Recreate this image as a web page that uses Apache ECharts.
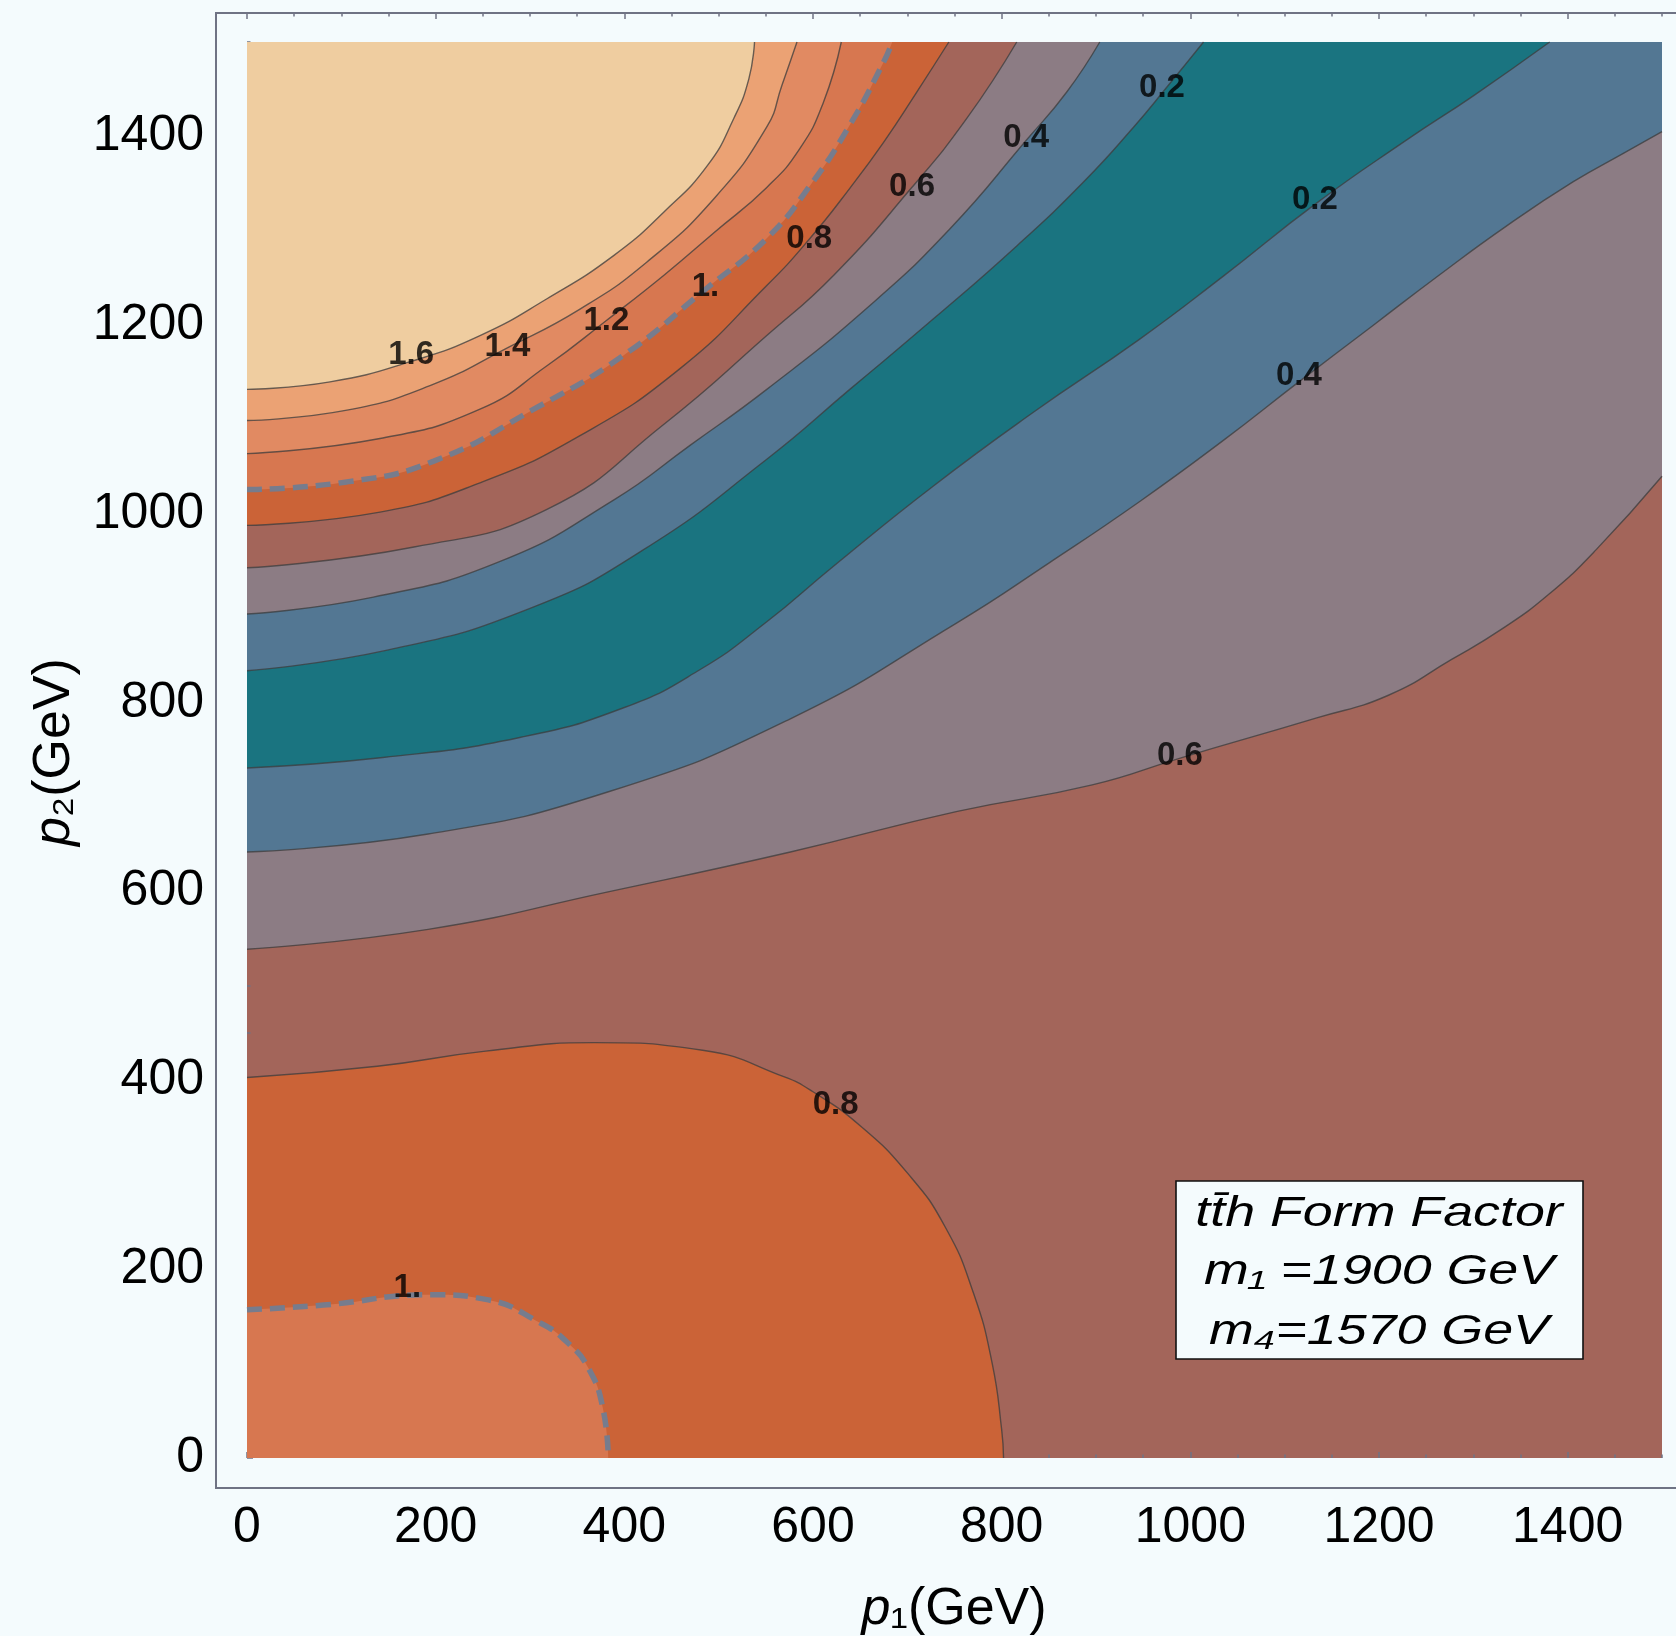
<!DOCTYPE html>
<html>
<head>
<meta charset="utf-8">
<script src="https://cdn.jsdelivr.net/npm/echarts@6/dist/echarts.min.js"></script>
<style>
html,body{margin:0;padding:0;background:#F4FBFD;}
#chart{width:1676px;height:1636px;}
</style>
</head>
<body>
<div id="chart"></div>
<script>
// ---------------- data ----------------
const xTicks = [0, 200, 400, 600, 800, 1000, 1200, 1400];
const yTicks = [0, 200, 400, 600, 800, 1000, 1200, 1400];

// contour lines in data coordinates [p1, p2]
const c06lower = [[0,539],[192,560],[384,600],[576,642],[753,685],[896,713],[991,742],[1134,784],[1210,808],[1277,846],[1330,878],[1380,915],[1430,962],[1500,1040]];
const c04lower = [[0,642],[192,661],[384,706],[576,783],[753,885],[850,948],[946,1013],[1035,1078],[1115,1140],[1194,1200],[1265,1254],[1335,1305],[1406,1352],[1459,1382],[1500,1405]];
const c02lower = [[0,731],[144,742],[288,763],[400,795],[480,835],[550,885],[622,945],[728,1030],[834,1108],[946,1185],[1035,1252],[1132,1328],[1229,1396],[1300,1443],[1381,1500]];
const c02upper = [[0,834],[150,856],[300,900],[420,962],[551,1058],[639,1132],[728,1207],[816,1284],[887,1352],[940,1410],[975,1452],[1014,1500]];
const c04upper = [[0,894],[134,912],[269,950],[389,1015],[470,1073],[551,1132],[657,1218],[745,1302],[827,1397],[869,1447],[904,1500]];
const c06upper = [[0,943],[177,965],[318,1005],[442,1095],[551,1189],[622,1253],[704,1345],[763,1419],[816,1500]];
const c08upper = [[0,988],[141,1002],[247,1033],[353,1083],[459,1154],[551,1242],[596,1291],[639,1345],[675,1394],[710,1447],[744,1500]];
const c10upper = [[0,1026],[106,1034],[198,1056],[304,1111],[399,1168],[486,1238],[551,1292],[597,1348],[639,1412],[675,1479],[684,1500]];
const c12 = [[0,1064],[141,1080],[247,1111],[318,1157],[381,1205],[442,1253],[495,1298],[551,1346],[586,1387],[611,1436],[630,1500]];
const c14 = [[0,1099],[106,1110],[194,1136],[276,1176],[353,1217],[424,1267],[495,1334],[551,1410],[567,1454],[583,1500]];
const c16 = [[0,1132],[88,1140],[175,1162],[247,1189],[318,1228],[389,1274],[442,1320],[488,1369],[516,1419],[532,1461],[538,1500]];
const c08bottom = [[0,403],[138,415],[253,431],[368,440],[483,432],[569,404],[600,388],[650,352],[700,302],[740,245],[770,175],[790,100],[800,30],[802,0]];
const c10bottom = [[0,157],[81,162],[196,173],[253,168],[311,143],[340,122],[362,95],[377,54],[383,0]];

// contour labels [p1, p2, text]
const contourLabels = [
  [174,1169,'1.6'],[276,1177,'1.4'],[381,1205,'1.2'],[486,1241,'1.'],
  [596,1291,'0.8'],[705,1346,'0.6'],[826,1398,'0.4'],[970,1451,'0.2'],
  [1132,1333,'0.2'],[1115,1146,'0.4'],[989,744,'0.6'],[624,374,'0.8'],[170,180,'1.']
];

const infoLines = ['tt\u0304h Form Factor', 'm\u2081 =1900 GeV', 'm\u2084=1570 GeV'];

// ---------------- styles ----------------
const COL = {
  b16: '#EFCDA0', b14: '#EBA274', b12: '#E18A62', b10: '#D77750',
  b08: '#CB6337', b06: '#A3655A', b04: '#8C7C84', b02: '#537793', b00: '#1A7480'
};
const frameColor = '#6F7384';
const lineCol = 'rgba(60,60,60,0.75)';
const bg = '#F4FBFD';
const FONT = 'Liberation Sans, Arial, sans-serif';

function band(data, color, origin, dashed) {
  return {
    type: 'line', xAxisIndex: 0, yAxisIndex: 0,
    data: data, smooth: 0.5,
    showSymbol: false, symbol: 'none', silent: true,
    lineStyle: dashed ? {color: '#767C8D', width: 5.5, type: [15, 8]} : {color: lineCol, width: 1.4},
    areaStyle: {color: color, opacity: 1, origin: origin},
    z: 2
  };
}

const series = [
  band(c06lower, COL.b04, 'end'),
  band(c04lower, COL.b02, 'end'),
  band(c02lower, COL.b00, 'end'),
  band(c02upper, COL.b02, 'end'),
  band(c04upper, COL.b04, 'end'),
  band(c06upper, COL.b06, 'end'),
  band(c08upper, COL.b08, 'end'),
  band(c10upper, COL.b10, 'end', true),
  band(c12, COL.b12, 'end'),
  band(c14, COL.b14, 'end'),
  band(c16, COL.b16, 'end'),
  band(c08bottom, COL.b08, 'start'),
  band(c10bottom, COL.b10, 'start', true),
  {
    type: 'scatter', xAxisIndex: 0, yAxisIndex: 0, data: contourLabels,
    symbol: 'circle', symbolSize: 0, itemStyle: {color: 'rgba(0,0,0,0)'}, silent: true, z: 5,
    label: {
      show: true, position: 'inside', formatter: p => p.value[2],
      fontSize: 33, fontWeight: 'bold', color: '#000', textBorderWidth: 0, fontFamily: FONT
    }
  }
];

function mkAxis(isX, pos, offset, interval, len, ticks, labels) {
  const a = {
    type: 'value', gridIndex: 0, min: 0, max: 1500, interval: interval,
    position: pos, offset: offset,
    axisLine: {show: false}, splitLine: {show: false},
    axisTick: {show: true, inside: true, length: len, lineStyle: {color: frameColor, width: 1.5}},
    axisLabel: {show: false}
  };
  if (ticks) a.axisTick.customValues = ticks;
  if (labels) {
    a.axisLabel = {show: true, customValues: ticks, margin: isX ? 15 : 12, fontSize: 50, color: '#000',
                   fontFamily: FONT, formatter: v => String(v)};
  }
  return a;
}

const chart = echarts.init(document.getElementById('chart'), null, {renderer: 'canvas'});
chart.setOption({
  animation: false,
  backgroundColor: bg,
  grid: {left: 247, top: 42, width: 1415, height: 1416, show: true, backgroundColor: COL.b06, borderWidth: 0},
  xAxis: [
    mkAxis(true, 'bottom', 30, 200, 6, xTicks, true),
    mkAxis(true, 'bottom', 30, 50, 3.5, null, false),
    mkAxis(true, 'top', 29, 200, 6, xTicks, false),
    mkAxis(true, 'top', 29, 50, 3.5, null, false)
  ],
  yAxis: [
    mkAxis(false, 'left', 31, 200, 6, yTicks, true),
    mkAxis(false, 'left', 31, 50, 3.5, null, false)
  ],
  series: series,
  graphic: [
    {type: 'rect', silent: true, z: 10,
     shape: {x: 216, y: 13, width: 1500, height: 1475},
     style: {fill: null, stroke: frameColor, lineWidth: 2}},
    {type: 'text', silent: true, z: 10, x: 954, y: 1610,
     style: {text: '{i|p}{n|\u2081(GeV)}', align: 'center', verticalAlign: 'middle',
             textAlign: 'center', textVerticalAlign: 'middle',
             rich: {i: {fontStyle: 'italic', fontSize: 52, fontFamily: 'Liberation Sans', fill: '#000'},
                    n: {fontSize: 52, fontFamily: 'Liberation Sans', fill: '#000'}}}},
    {type: 'text', silent: true, z: 10, x: 55, y: 752, rotation: Math.PI / 2,
     style: {text: '{i|p}{n|\u2082(GeV)}', align: 'center', verticalAlign: 'middle',
             textAlign: 'center', textVerticalAlign: 'middle',
             rich: {i: {fontStyle: 'italic', fontSize: 52, fontFamily: 'Liberation Sans', fill: '#000'},
                    n: {fontSize: 52, fontFamily: 'Liberation Sans', fill: '#000'}}}},
    {type: 'rect', silent: true, z: 10,
     shape: {x: 1176, y: 1181, width: 407, height: 178},
     style: {fill: bg, stroke: '#111', lineWidth: 1.6}},
    {type: 'text', silent: true, z: 11, x: 1379, y: 1214, scaleX: 1.28,
     style: {text: infoLines[0], fill: '#000', font: 'italic 42px "Liberation Sans"', align: 'center', verticalAlign: 'middle', textAlign: 'center', textVerticalAlign: 'middle'}},
    {type: 'text', silent: true, z: 11, x: 1379, y: 1272, scaleX: 1.28,
     style: {text: infoLines[1], fill: '#000', font: 'italic 42px "Liberation Sans"', align: 'center', verticalAlign: 'middle', textAlign: 'center', textVerticalAlign: 'middle'}},
    {type: 'text', silent: true, z: 11, x: 1379, y: 1332, scaleX: 1.28,
     style: {text: infoLines[2], fill: '#000', font: 'italic 42px "Liberation Sans"', align: 'center', verticalAlign: 'middle', textAlign: 'center', textVerticalAlign: 'middle'}}
  ]
});
</script>
</body>
</html>
